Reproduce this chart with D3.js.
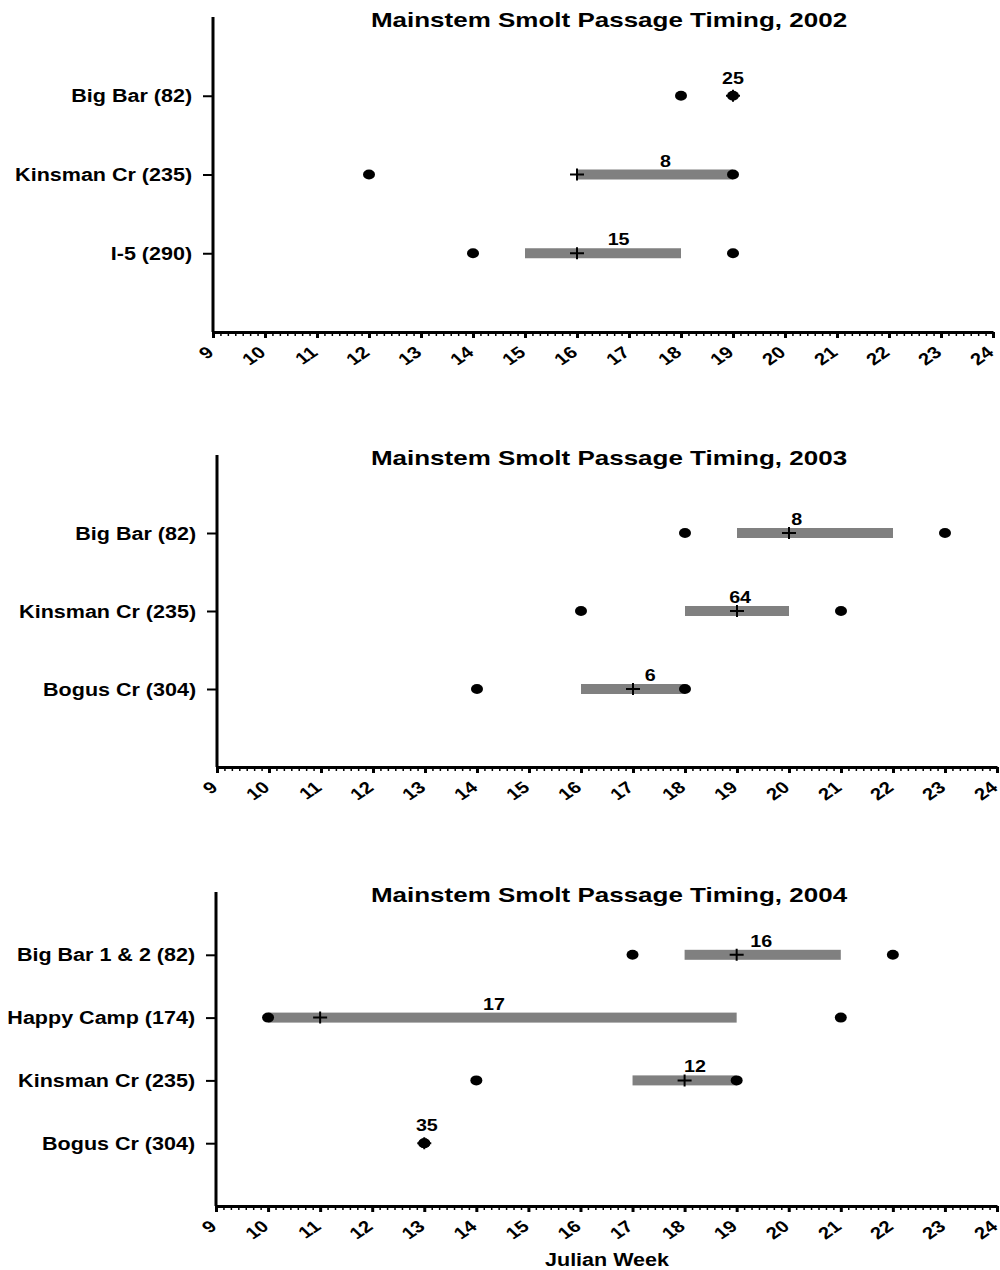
<!DOCTYPE html>
<html><head><meta charset="utf-8">
<script src="https://cdn.jsdelivr.net/npm/d3@7"></script>
<style>
body{margin:0;background:#fff}
svg text{font-family:"Liberation Sans",Arial,Helvetica,sans-serif;font-weight:bold;fill:#000}
</style>
</head><body>
<svg id="chart" width="1000" height="1270"></svg>
<script>
// ---------- data ----------
const weekTicks = [9,10,11,12,13,14,15,16,17,18,19,20,21,22,23,24];
const titles = ["Mainstem Smolt Passage Timing, 2002","Mainstem Smolt Passage Timing, 2003","Mainstem Smolt Passage Timing, 2004"];
const xAxisTitle = "Julian Week";

const sites2002 = ["Big Bar (82)","Kinsman Cr (235)","I-5 (290)"];
const first2002 = [18,12,14];
const last2002 = [19,19,19];
const barStart2002 = [null,16,15];
const barEnd2002 = [null,19,18];
const peak2002 = [19,16,16];
const count2002 = [25,8,15];
const labelWeek2002 = [19,17.7,16.8];

const sites2003 = ["Big Bar (82)","Kinsman Cr (235)","Bogus Cr (304)"];
const first2003 = [18,16,14];
const last2003 = [23,21,18];
const barStart2003 = [19,18,16];
const barEnd2003 = [22,20,18];
const peak2003 = [20,19,17];
const count2003 = [8,64,6];
const labelWeek2003 = [20.15,19.06,17.33];

const sites2004 = ["Big Bar 1 & 2 (82)","Happy Camp (174)","Kinsman Cr (235)","Bogus Cr (304)"];
const first2004 = [17,10,14,13];
const last2004 = [22,21,19,13];
const barStart2004 = [18,10,17,null];
const barEnd2004 = [21,19,19,null];
const peak2004 = [19,11,18,13];
const count2004 = [16,17,12,35];
const labelWeek2004 = [19.47,14.34,18.2,13.05];

// ---------- layout ----------
const SX = 1.23;
const layouts = [
  {left:213,right:993,top:17,bottom:332},
  {left:217,right:997,top:455,bottom:767},
  {left:216,right:997,top:892,bottom:1206}
];
const panels = [
  {title:titles[0],sites:sites2002,first:first2002,last:last2002,bs:barStart2002,be:barEnd2002,peak:peak2002,count:count2002,lw:labelWeek2002},
  {title:titles[1],sites:sites2003,first:first2003,last:last2003,bs:barStart2003,be:barEnd2003,peak:peak2003,count:count2003,lw:labelWeek2003},
  {title:titles[2],sites:sites2004,first:first2004,last:last2004,bs:barStart2004,be:barEnd2004,peak:peak2004,count:count2004,lw:labelWeek2004}
];

const svg = d3.select("#chart");

function drawPanel(p, L){
  const g = svg.append("g");
  const x = d3.scaleLinear().domain([weekTicks[0], weekTicks[weekTicks.length-1]]).range([L.left, L.right]);
  const y = d3.scalePoint().domain(p.sites).range([L.top, L.bottom]).padding(1);

  // title
  g.append("text").attr("text-anchor","middle")
    .attr("transform",`translate(609,${L.top+10}) scale(1.3,1)`)
    .style("font-size","20px").text(p.title);

  // y axis
  g.append("line").attr("x1",L.left).attr("x2",L.left).attr("y1",L.top).attr("y2",L.bottom)
    .attr("stroke","#000").attr("stroke-width",3);
  const ya = g.append("g").attr("transform",`translate(${L.left},0)`)
    .call(d3.axisLeft(y).tickSize(10).tickSizeOuter(0));
  ya.select(".domain").remove();
  ya.selectAll(".tick line").attr("stroke","#000").attr("stroke-width",2);
  ya.selectAll(".tick text").attr("x",-17).attr("dy","0.35em")
    .attr("transform",`scale(${SX},1)`).style("font-size","17.5px");

  // x axis minor ticks
  const minor = [];
  for (let i=0;i<weekTicks.length-1;i++) for (let k=1;k<7;k++) minor.push(weekTicks[i]+k/7);
  const xm = g.append("g").attr("transform",`translate(0,${L.bottom})`)
    .call(d3.axisBottom(x).tickValues(minor).tickSize(4).tickSizeOuter(0).tickFormat(""));
  xm.select(".domain").remove();
  xm.selectAll(".tick line").attr("stroke","#000").attr("stroke-width",1.5);

  // x axis major
  const xa = g.append("g").attr("transform",`translate(0,${L.bottom})`)
    .call(d3.axisBottom(x).tickValues(weekTicks).tickSize(6).tickSizeOuter(0).tickFormat(d3.format("d")));
  xa.select(".domain").attr("stroke","#000").attr("stroke-width",3);
  xa.selectAll(".tick line").attr("stroke","#000").attr("stroke-width",3);
  xa.selectAll(".tick text").attr("x",0).attr("y",0).attr("dy","0.72em")
    .attr("text-anchor","end")
    .attr("transform",`translate(-8,13) scale(${SX},1) rotate(-40)`)
    .style("font-size","16.5px");

  const idx = p.sites.map((s,i)=>i);
  // bars
  g.selectAll("rect.bar").data(idx.filter(i=>p.bs[i]!=null)).enter().append("rect")
    .attr("class","bar")
    .attr("x",i=>x(p.bs[i])).attr("width",i=>x(p.be[i])-x(p.bs[i]))
    .attr("y",i=>y(p.sites[i])-5).attr("height",10).attr("fill","#808080");
  // dots
  const dots = [];
  idx.forEach(i=>{dots.push([p.first[i],p.sites[i]]);dots.push([p.last[i],p.sites[i]]);});
  g.selectAll("ellipse.dot").data(dots).enter().append("ellipse")
    .attr("cx",d=>x(d[0])).attr("cy",d=>y(d[1])).attr("rx",6).attr("ry",5).attr("fill","#000");
  // peak crosses
  g.selectAll("path.peak").data(idx).enter().append("path")
    .attr("transform",i=>`translate(${x(p.peak[i])},${y(p.sites[i])})`)
    .attr("d","M-7,0H7M0,-6V6").attr("stroke","#000").attr("stroke-width",2).attr("fill","none");
  // counts
  g.selectAll("text.count").data(idx).enter().append("text")
    .attr("text-anchor","middle")
    .attr("transform",i=>`translate(${x(p.lw[i])},${y(p.sites[i])-(p.bs[i]!=null?8:12)}) scale(${SX},1)`)
    .style("font-size","16px").text(i=>p.count[i]);
}

panels.forEach((p,i)=>drawPanel(p,layouts[i]));

svg.append("text").attr("text-anchor","middle")
  .attr("transform",`translate(607,1266) scale(${SX},1)`)
  .style("font-size","17.5px").text(xAxisTitle);
</script>
</body></html>
